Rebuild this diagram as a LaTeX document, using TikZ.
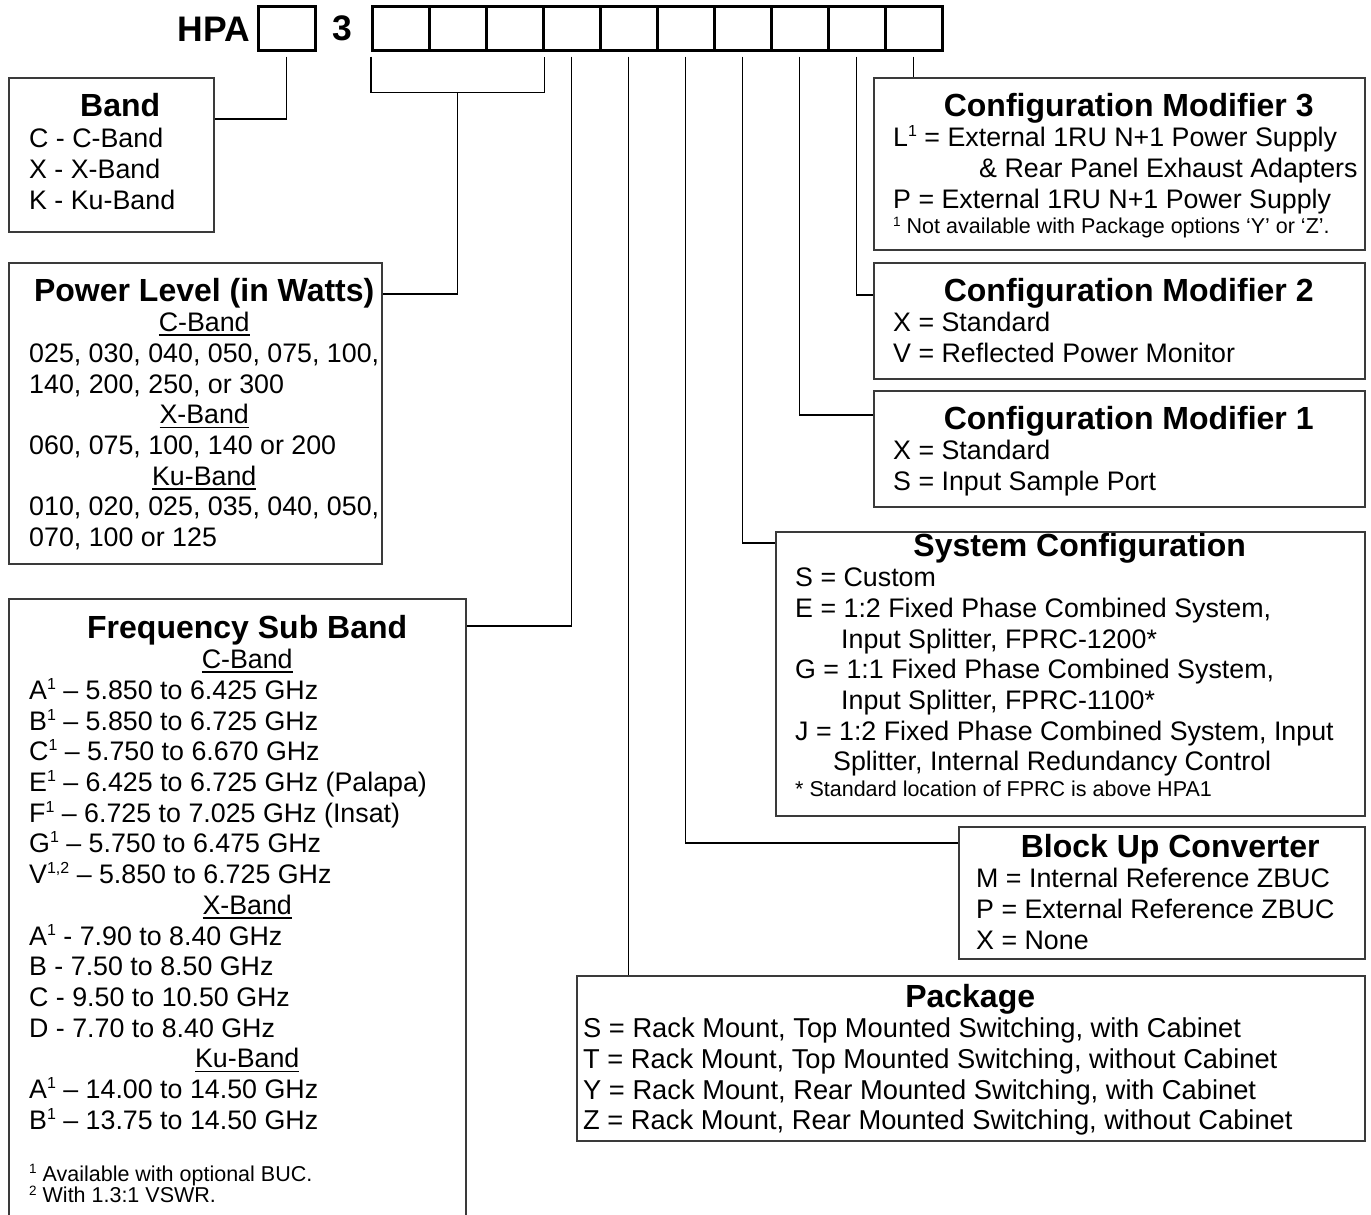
\documentclass[tikz,border=0pt]{standalone}
\usepackage{fontspec}
\setmainfont{Liberation Sans}
\usetikzlibrary{calc,positioning}
\definecolor{Frame}{HTML}{3A3A3A}

\newcommand{\bodyfont}{\fontsize{26.8}{30.7}\selectfont}
\newcommand{\widefont}{\fontsize{27.3}{30.7}\selectfont}
\newcommand{\titlefont}{\fontsize{32}{30.7}\selectfont\bfseries}
\newcommand{\notefont}{\fontsize{21.5}{21.5}\selectfont}
\newcommand{\supnum}[1]{\raisebox{10pt}{\fontsize{16}{16}\selectfont #1}}
\newcommand{\notenum}[1]{\raisebox{7.5pt}{\fontsize{13.5}{13.5}\selectfont #1}}
\newcommand{\boxtitle}[1]{\makebox[\hsize]{\titlefont #1}}
\newcommand{\subhead}[1]{\makebox[\hsize]{\setbox0\hbox{#1}\rlap{\rule[-4.5pt]{\wd0}{1.8pt}}\box0}}
\newcommand{\entries}[2]{\vtop{\hsize=#1\relax\bodyfont\raggedright\parindent=0pt\parskip=0pt #2}}

\begin{document}
\begin{tikzpicture}[x=1pt,y=-1pt,
    cell/.style={draw,line width=2.6pt,minimum width=57pt,minimum height=44pt,inner sep=0pt,anchor=north west},
    frame/.style={draw=Frame,line width=1.6pt,inner sep=0pt,anchor=north west},
    entry/.style={anchor=base west,inner sep=0pt},
    wire/.style={line width=1.2pt,shorten <=5pt}]
  \useasboundingbox (0,0) rectangle (1371,1215);
  \clip (0,0) rectangle (1371,1215);

  % model number cells
  \node[font=\fontsize{35.5}{40}\selectfont\bfseries,anchor=base east,inner sep=0pt] (hpa) at (250,42) {HPA};
  \node[cell] (c0) at (257,5) {};
  \node[font=\fontsize{35.5}{40}\selectfont\bfseries,anchor=base,inner sep=0pt] (three) at (342,41) {3};
  \foreach \i in {1,...,10}
    \node[cell] (c\i) at ({371+57*(\i-1)},5) {};

  % option frames
  \node[frame,minimum width=205pt,minimum height=154pt] (band) at (8,77) {};
  \node[frame,minimum width=373pt,minimum height=301pt] (power) at (8,262) {};
  \node[frame,minimum width=457pt,minimum height=630pt] (freq) at (8,598) {};
  \node[frame,minimum width=491pt,minimum height=172pt] (mod3) at (873,77) {};
  \node[frame,minimum width=491pt,minimum height=116pt] (mod2) at (873,262) {};
  \node[frame,minimum width=491pt,minimum height=116pt] (mod1) at (873,390) {};
  \node[frame,minimum width=589pt,minimum height=284pt] (syscfg) at (775,531) {};
  \node[frame,minimum width=406pt,minimum height=132pt] (buc) at (958,826) {};
  \node[frame,minimum width=788pt,minimum height=165pt] (package) at (576,975) {};

  % option texts
  \node[entry] (bandtxt) at (29,117) {\entries{182pt}{%
    \boxtitle{Band}\\
    C - C-Band\\
    X - X-Band\\
    K - Ku-Band}};
  \node[entry] (powertxt) at (29,301) {\entries{350pt}{%
    \boxtitle{Power Level (in Watts)}\\
    \subhead{C-Band}\\
    025, 030, 040, 050, 075, 100,\\
    140, 200, 250, or 300\\
    \subhead{X-Band}\\
    060, 075, 100, 140 or 200\\
    \subhead{Ku-Band}\\
    010, 020, 025, 035, 040, 050,\\
    070, 100 or 125}};
  \node[entry] (freqtxt) at (29,638) {\entries{436pt}{%
    \boxtitle{Frequency Sub Band}\\
    \subhead{C-Band}\\
    A\supnum{1} – 5.850 to 6.425 GHz\\
    B\supnum{1} – 5.850 to 6.725 GHz\\
    C\supnum{1} – 5.750 to 6.670 GHz\\
    E\supnum{1} – 6.425 to 6.725 GHz (Palapa)\\
    F\supnum{1} – 6.725 to 7.025 GHz (Insat)\\
    G\supnum{1} – 5.750 to 6.475 GHz\\
    V\supnum{1,2} – 5.850 to 6.725 GHz\\
    \subhead{X-Band}\\
    A\supnum{1} - 7.90 to 8.40 GHz\\
    B - 7.50 to 8.50 GHz\\
    C - 9.50 to 10.50 GHz\\
    D - 7.70 to 8.40 GHz\\
    \subhead{Ku-Band}\\
    A\supnum{1} – 14.00 to 14.50 GHz\\
    B\supnum{1} – 13.75 to 14.50 GHz\\[21.3pt]
    {\notefont\notenum{1} Available with optional BUC.}\\[-9.2pt]
    {\notefont\notenum{2} With 1.3:1 VSWR.}}};
  \node[entry] (mod3txt) at (893,116) {\entries{471pt}{%
    \boxtitle{Configuration Modifier 3}\\
    L\supnum{1} = External 1RU N+1 Power Supply\\
    \hspace*{86pt}\mbox{\& Rear Panel Exhaust Adapters}\\
    P = External 1RU N+1 Power Supply\\[-5pt]
    {\notefont\notenum{1} Not available with Package options ‘Y’ or ‘Z’.}}};
  \node[entry] (mod2txt) at (893,301) {\entries{471pt}{%
    \boxtitle{Configuration Modifier 2}\\
    X = Standard\\
    V = Reflected Power Monitor}};
  \node[entry] (mod1txt) at (893,429) {\entries{471pt}{%
    \boxtitle{Configuration Modifier 1}\\
    X = Standard\\
    S = Input Sample Port}};
  \node[entry] (syscfgtxt) at (795,556) {\entries{569pt}{%
    \boxtitle{System Configuration}\\
    S = Custom\\
    E = 1:2 Fixed Phase Combined System,\\
    \hspace*{46pt}Input Splitter, FPRC-1200*\\
    G = 1:1 Fixed Phase Combined System,\\
    \hspace*{46pt}Input Splitter, FPRC-1100*\\
    J = 1:2 Fixed Phase Combined System, Input\\
    \hspace*{38pt}Splitter, Internal Redundancy Control\\[-5pt]
    {\notefont * Standard location of FPRC is above HPA1}}};
  \node[entry] (buctxt) at (976,857) {\entries{388pt}{%
    \boxtitle{Block Up Converter}\\
    M = Internal Reference ZBUC\\
    P = External Reference ZBUC\\
    X = None}};
  \node[entry] (packagetxt) at (583,1007) {\entries{774pt}{\widefont
    \boxtitle{Package}\\
    S = Rack Mount, Top Mounted Switching, with Cabinet\\
    T = Rack Mount, Top Mounted Switching, without Cabinet\\
    Y = Rack Mount, Rear Mounted Switching, with Cabinet\\
    Z = Rack Mount, Rear Mounted Switching, without Cabinet}};

  % connectors
  \draw[wire] (c0.south) |- ($(band.north east)+(0,42)$);
  \draw[wire] (c1.south west) -- ([yshift=-41pt]c1.south west) coordinate (bl)
    -- ([yshift=-41pt]c3.south east) coordinate (br) -- ([yshift=-5pt]c3.south east);
  \draw[line width=1.2pt] ($(bl)!0.5!(br)$) |- ($(power.north east)+(0,32)$);
  \draw[wire] (c4.south) |- ($(freq.north east)+(0,28)$);
  \draw[wire] (c5.south) -- (c5.south |- package.north);
  \draw[wire] (c6.south) |- ($(buc.north west)+(0,17)$);
  \draw[wire] (c7.south) |- ($(syscfg.north west)+(0,12)$);
  \draw[wire] (c8.south) |- ($(mod1.north west)+(0,25)$);
  \draw[wire] (c9.south) |- ($(mod2.north west)+(0,33)$);
  \draw[wire] (c10.south) -- (c10.south |- mod3.north);
\end{tikzpicture}
\end{document}
